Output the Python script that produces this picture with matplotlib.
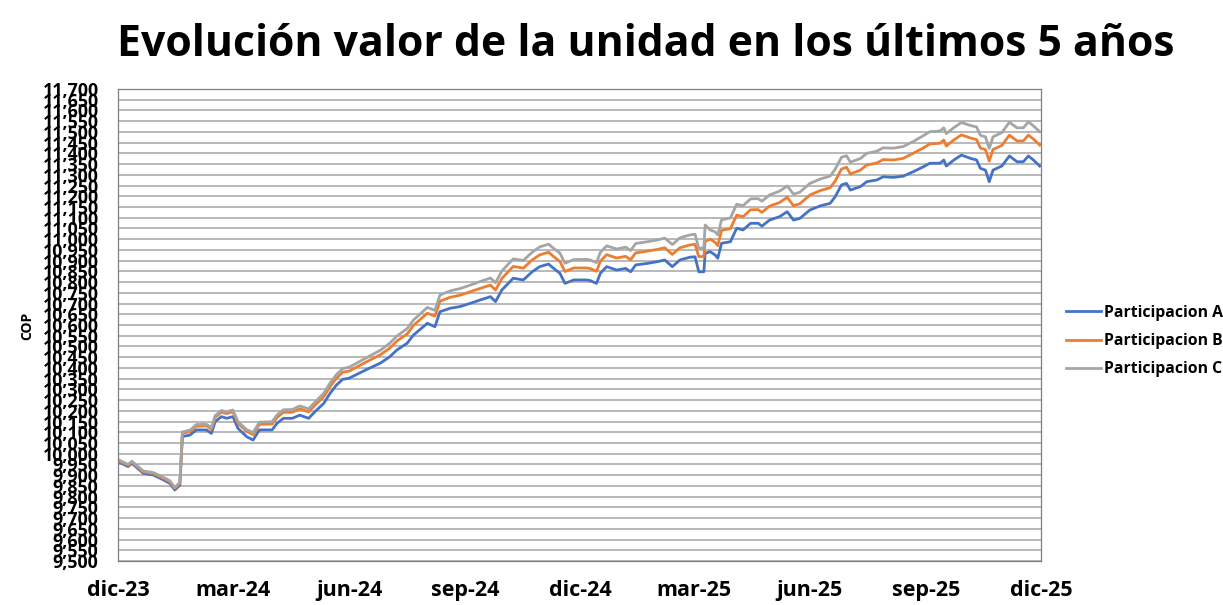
import matplotlib
matplotlib.use("Agg")
import matplotlib.pyplot as plt
import matplotlib.ticker as mticker
import pandas as pd

# ---------------- data ----------------
start_date = "2023-12-01"
day_offsets = [0, 8, 11, 20, 28, 36, 41, 45, 49, 51, 57, 62, 70, 74, 77, 82, 86, 91, 95, 102,
               107, 112, 122, 126, 131, 138, 144, 151, 156, 163, 168, 173, 178, 183, 196, 208,
               215, 221, 229, 234, 245, 251, 255, 263, 271, 279, 287, 295, 299, 304, 313, 321,
               328, 334, 341, 345, 350, 354, 361, 371, 374, 379, 382, 387, 395, 402, 406, 410,
               419, 427, 433, 439, 445, 453, 457, 460, 464, 465, 469, 473, 475, 478, 485, 490,
               495, 501, 507, 510, 516, 524, 530, 535, 540, 548, 556, 564, 568, 573, 577, 580,
               588, 593, 601, 606, 614, 622, 630, 638, 643, 651, 654, 656, 662, 668, 675, 680,
               683, 687, 690, 693, 700, 706, 712, 717, 721, 725, 730]

serie_a = [9963, 9940, 9955, 9909, 9901, 9878, 9862, 9831, 9854, 10080, 10087, 10111, 10111, 10095,
           10150, 10173, 10165, 10173, 10118, 10079, 10064, 10111, 10111, 10142, 10165, 10165, 10180,
           10165, 10196, 10235, 10282, 10320, 10347, 10352, 10390, 10423, 10451, 10484, 10515, 10553,
           10608, 10592, 10662, 10678, 10686, 10701, 10717, 10732, 10709, 10763, 10818, 10810, 10848,
           10872, 10884, 10864, 10841, 10794, 10810, 10810, 10807, 10794, 10841, 10872, 10856, 10864,
           10848, 10880, 10887, 10895, 10903, 10872, 10903, 10916, 10918, 10848, 10848, 10934, 10942,
           10926, 10911, 10981, 10988, 11051, 11043, 11074, 11074, 11061, 11089, 11105, 11128, 11089,
           11097, 11136, 11155, 11167, 11198, 11253, 11260, 11229, 11245, 11268, 11276, 11291, 11288,
           11294, 11315, 11338, 11354, 11354, 11369, 11341, 11369, 11392, 11377, 11369, 11330, 11322,
           11268, 11322, 11341, 11388, 11361, 11361, 11388, 11369, 11341]

serie_b = [9968, 9946, 9961, 9915, 9908, 9885, 9870, 9839, 9862, 10095, 10103, 10128, 10130, 10114,
           10170, 10194, 10187, 10196, 10141, 10104, 10089, 10137, 10138, 10169, 10193, 10193, 10209,
           10195, 10226, 10266, 10313, 10352, 10380, 10385, 10426, 10462, 10491, 10526, 10558, 10598,
           10655, 10641, 10711, 10729, 10739, 10755, 10771, 10786, 10763, 10817, 10873, 10865, 10903,
           10927, 10939, 10919, 10896, 10849, 10866, 10866, 10863, 10850, 10897, 10928, 10912, 10920,
           10904, 10936, 10944, 10952, 10960, 10929, 10960, 10973, 10976, 10918, 10920, 10990, 11000,
           10985, 10970, 11041, 11049, 11112, 11105, 11137, 11138, 11125, 11154, 11171, 11195, 11156,
           11165, 11206, 11226, 11240, 11271, 11327, 11335, 11304, 11322, 11346, 11355, 11371, 11369,
           11377, 11401, 11426, 11444, 11447, 11462, 11434, 11463, 11486, 11472, 11464, 11425, 11417,
           11364, 11418, 11437, 11485, 11458, 11458, 11485, 11467, 11439]

serie_c = [9973, 9950, 9965, 9920, 9912, 9890, 9874, 9843, 9866, 10102, 10110, 10136, 10137, 10122,
           10178, 10202, 10195, 10204, 10150, 10112, 10099, 10147, 10149, 10181, 10205, 10206, 10223,
           10209, 10241, 10282, 10330, 10369, 10397, 10403, 10445, 10483, 10514, 10549, 10583, 10623,
           10682, 10668, 10740, 10759, 10770, 10786, 10803, 10819, 10797, 10852, 10908, 10901, 10939,
           10964, 10977, 10957, 10935, 10888, 10905, 10906, 10903, 10891, 10938, 10969, 10954, 10963,
           10947, 10980, 10988, 10996, 11005, 10975, 11006, 11020, 11023, 10957, 10960, 11066, 11043,
           11034, 11020, 11090, 11099, 11163, 11156, 11188, 11189, 11177, 11206, 11224, 11248, 11210,
           11219, 11260, 11280, 11294, 11326, 11382, 11389, 11359, 11376, 11400, 11410, 11426, 11424,
           11432, 11456, 11483, 11501, 11504, 11519, 11492, 11520, 11544, 11530, 11523, 11484, 11477,
           11423, 11477, 11497, 11545, 11519, 11519, 11547, 11528, 11501]

series_names = ["Participacion A", "Participacion B", "Participacion C"]
series_colors = ["#4472C4", "#ED7D31", "#A5A5A5"]

tick_dates = ["2023-12-01", "2024-03-01", "2024-06-01", "2024-09-01", "2024-12-01",
              "2025-03-01", "2025-06-01", "2025-09-01", "2025-12-01"]
tick_labels = ["dic-23", "mar-24", "jun-24", "sep-24", "dic-24",
               "mar-25", "jun-25", "sep-25", "dic-25"]

title_text = "Evolución valor de la unidad en los últimos 5 años"
y_label = "COP"
y_min, y_max, y_step = 9500, 11700, 50

# ---------------- fonts ----------------
plt.rcParams["font.family"] = ["Open Sans", "DejaVu Sans"]

# ---------------- plot ----------------
dates = pd.Timestamp(start_date) + pd.to_timedelta(day_offsets, unit="D")

fig = plt.figure(figsize=(12.23, 6.05), dpi=100)
ax = fig.add_axes([118 / 1223, 1 - 561 / 605, (1041 - 118) / 1223, (561 - 89) / 605])

for vals, name, col in zip([serie_a, serie_b, serie_c], series_names, series_colors):
    ax.plot(dates, vals, color=col, lw=2.0, label=name, solid_joinstyle="round")

ax.set_xlim(pd.Timestamp(tick_dates[0]), pd.Timestamp(tick_dates[-1]))
ax.set_ylim(y_min, y_max)
ax.set_yticks(range(y_min, y_max + 1, y_step))
ax.yaxis.set_major_formatter(mticker.FuncFormatter(lambda v, p: f"{int(v):,}"))
ax.set_xticks(pd.to_datetime(tick_dates))
ax.set_xticklabels(tick_labels)

ax.grid(axis="y", color="#A6A6A6", lw=1.1)
ax.grid(axis="x", visible=False)
ax.set_axisbelow(True)
for s in ax.spines.values():
    s.set_color("#7F7F7F")
    s.set_linewidth(0.9)

ax.tick_params(axis="y", length=0, pad=14, labelsize=12.8)
ax.tick_params(axis="x", length=0, pad=14, labelsize=15.5)
for lab in ax.get_yticklabels() + ax.get_xticklabels():
    lab.set_fontweight("bold")

fig.text(27 / 1223, 1 - 326 / 605, y_label, rotation=90, ha="center", va="center",
         fontsize=10, fontweight="bold")

fig.text(646 / 1223, 1 - 45 / 605, title_text, ha="center", va="center",
         fontsize=30.8, fontweight="bold")

leg = fig.legend(loc="center left", bbox_to_anchor=(1066 / 1223, 1 - 341 / 605),
                 frameon=False, handlelength=2.2, handletextpad=0.2, labelspacing=0.78,
                 borderpad=0, borderaxespad=0,
                 prop={"weight": "bold", "size": 11.3})

fig.savefig("out.png", dpi=100)
